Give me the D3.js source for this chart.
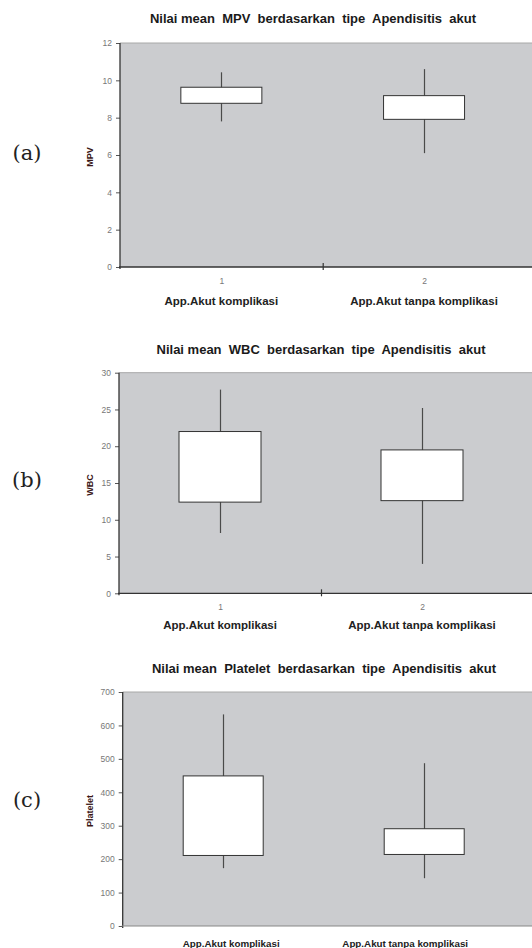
<!DOCTYPE html>
<html lang="en">
<head>
  <meta charset="UTF-8">
  <title>Nilai mean MPV, WBC, Platelet berdasarkan tipe Apendisitis akut</title>
  <script src="https://d3js.org/d3.v7.min.js"></script>
  <style>
    body {
      margin: 0;
      padding: 0;
      background: #ffffff;
      font-family: 'Liberation Sans', Arial, sans-serif;
    }
    .title {
      font-size: 13px;
      font-weight: bold;
      fill: #1a1a1a;
      text-anchor: middle;
    }
    .ylab {
      font-size: 9px;
      font-weight: bold;
      fill: #3a1616;
      text-anchor: middle;
    }
    .catname {
      font-size: 11.5px;
      font-weight: bold;
      fill: #222;
      text-anchor: middle;
    }
    .panel-tag {
      font-family: 'DejaVu Serif', 'Liberation Serif', serif;
      font-size: 21px;
      fill: #222;
      text-anchor: middle;
    }
    .y.axis text, .num.axis text {
      font-size: 8.5px;
      fill: #777;
      font-family: 'Liberation Sans', Arial, sans-serif;
    }
  </style>
</head>
<body>
  <div id="chart"></div>
  <script>
    const width = 532;
    const height = 948;

    // categories
    const categories = ["App.Akut komplikasi", "App.Akut tanpa komplikasi"];
    const catNumbers = ["1", "2"];

    // MPV (a)
    const mpvLow  = [7.8, 6.1];
    const mpvQ1   = [8.77, 7.91];
    const mpvQ3   = [9.63, 9.18];
    const mpvHigh = [10.43, 10.6];
    const mpvTicks = [0, 2, 4, 6, 8, 10, 12];

    // WBC (b)
    const wbcLow  = [8.2, 4.0];
    const wbcQ1   = [12.4, 12.6];
    const wbcQ3   = [22.0, 19.5];
    const wbcHigh = [27.7, 25.2];
    const wbcTicks = [0, 5, 10, 15, 20, 25, 30];

    // Platelet (c)
    const pltLow  = [173, 143];
    const pltQ1   = [211, 214];
    const pltQ3   = [449, 291];
    const pltHigh = [633, 487];
    const pltTicks = [0, 100, 200, 300, 400, 500, 600, 700];

    const svg = d3.select("#chart")
      .append("svg")
      .attr("width", width)
      .attr("height", height);

    const panels = [
      {
        tag: "(a)", tagY: 153,
        title: "Nilai mean  MPV  berdasarkan  tipe  Apendisitis  akut", titleX: 313, titleY: 23,
        ylabel: "MPV", low: mpvLow, q1: mpvQ1, q3: mpvQ3, high: mpvHigh, ticks: mpvTicks,
        top: 43, bottom: 267, left: 120, band: 202.7, boxW: 81,
        numbers: true, catY: 305, catSize: 11.5, catDx: [0, 0]
      },
      {
        tag: "(b)", tagY: 480,
        title: "Nilai mean  WBC  berdasarkan  tipe  Apendisitis  akut", titleX: 321, titleY: 354,
        ylabel: "WBC", low: wbcLow, q1: wbcQ1, q3: wbcQ3, high: wbcHigh, ticks: wbcTicks,
        top: 372.7, bottom: 593.3, left: 119, band: 202, boxW: 82,
        numbers: true, catY: 629, catSize: 11.5, catDx: [0, 0]
      },
      {
        tag: "(c)", tagY: 800,
        title: "Nilai mean  Platelet  berdasarkan  tipe  Apendisitis  akut", titleX: 324, titleY: 673,
        ylabel: "Platelet", low: pltLow, q1: pltQ1, q3: pltQ3, high: pltHigh, ticks: pltTicks,
        top: 692, bottom: 926, left: 122.7, band: 201, boxW: 80,
        numbers: false, catY: 946.5, catSize: 9.8, catDx: [8, -19]
      }
    ];

    panels.forEach(p => drawPanel(p));

    function drawPanel(p) {
      const g = svg.append("g");
      const yMax = d3.max(p.ticks);

      const y = d3.scaleLinear()
        .domain([0, yMax])
        .range([p.bottom, p.top]);

      const x = d3.scaleLinear()
        .domain([0.5, 2.5])
        .range([p.left, p.left + 2 * p.band]);

      // grey plot area (runs off the right edge like the source)
      g.append("rect")
        .attr("x", p.left)
        .attr("y", p.top)
        .attr("width", width - p.left + 5)
        .attr("height", p.bottom - p.top)
        .attr("fill", "#cbcccf");

      g.append("line")
        .attr("x1", p.left).attr("x2", width)
        .attr("y1", p.top).attr("y2", p.top)
        .attr("stroke", "#a8a8a8");

      // whiskers
      g.selectAll(".whisker")
        .data(categories)
        .enter()
        .append("line")
        .attr("class", "whisker")
        .attr("x1", (d, i) => Math.round(x(i + 1)) + 0.5)
        .attr("x2", (d, i) => Math.round(x(i + 1)) + 0.5)
        .attr("y1", (d, i) => y(p.low[i]))
        .attr("y2", (d, i) => y(p.high[i]))
        .attr("stroke", "#4a4a4a")
        .attr("stroke-width", 1.2);

      // boxes
      g.selectAll(".box")
        .data(categories)
        .enter()
        .append("rect")
        .attr("class", "box")
        .attr("x", (d, i) => x(i + 1) - p.boxW / 2)
        .attr("width", p.boxW)
        .attr("y", (d, i) => y(p.q3[i]))
        .attr("height", (d, i) => y(p.q1[i]) - y(p.q3[i]))
        .attr("fill", "#ffffff")
        .attr("stroke", "#333")
        .attr("stroke-width", 1);

      // y axis
      const yAxis = g.append("g")
        .attr("class", "y axis")
        .attr("transform", `translate(${p.left},0)`)
        .call(d3.axisLeft(y).tickValues(p.ticks).tickSize(4).tickPadding(4));
      yAxis.select(".domain").remove();
      yAxis.selectAll(".tick line").attr("stroke", "#555");
      g.append("line")
        .attr("x1", p.left).attr("x2", p.left)
        .attr("y1", p.top).attr("y2", p.bottom + 2)
        .attr("stroke", "#333")
        .attr("stroke-width", 1.3);

      // x axis line
      g.append("line")
        .attr("x1", p.left - 1).attr("x2", width)
        .attr("y1", p.bottom).attr("y2", p.bottom)
        .attr("stroke", p.numbers ? "#333" : "#888")
        .attr("stroke-width", p.numbers ? 1.3 : 1.2);

      if (p.numbers) {
        // divider tick between categories
        const xAxis = g.append("g")
          .attr("transform", `translate(0,${p.bottom - 4})`)
          .call(d3.axisBottom(x).tickValues([1.5]).tickSize(7).tickFormat(""));
        xAxis.select(".domain").remove();
        xAxis.selectAll(".tick line").attr("stroke", "#333").attr("stroke-width", 1.2);

        const numAxis = g.append("g")
          .attr("class", "num axis")
          .attr("transform", `translate(0,${p.bottom + 8})`)
          .call(d3.axisBottom(x).tickValues([1, 2]).tickSize(0)
            .tickFormat((d, i) => catNumbers[i]));
        numAxis.select(".domain").remove();
        numAxis.selectAll("text").attr("fill", "#8a7a95");
      }

      // category names
      g.selectAll(".catname")
        .data(categories)
        .enter()
        .append("text")
        .attr("class", "catname")
        .style("font-size", p.catSize + "px")
        .attr("x", (d, i) => x(i + 1) + p.catDx[i])
        .attr("y", p.catY)
        .text(d => d);

      // title
      g.append("text")
        .attr("class", "title")
        .attr("x", p.titleX)
        .attr("y", p.titleY)
        .style("white-space", "pre")
        .attr("xml:space", "preserve")
        .text(p.title);

      // y label
      g.append("text")
        .attr("class", "ylab")
        .attr("transform", `translate(${93},${(p.top + p.bottom) / 2 + 2}) rotate(-90)`)
        .text(p.ylabel);

      // panel tag
      g.append("text")
        .attr("class", "panel-tag")
        .attr("x", 27)
        .attr("y", p.tagY + 7)
        .text(p.tag);
    }
  </script>
</body>
</html>
